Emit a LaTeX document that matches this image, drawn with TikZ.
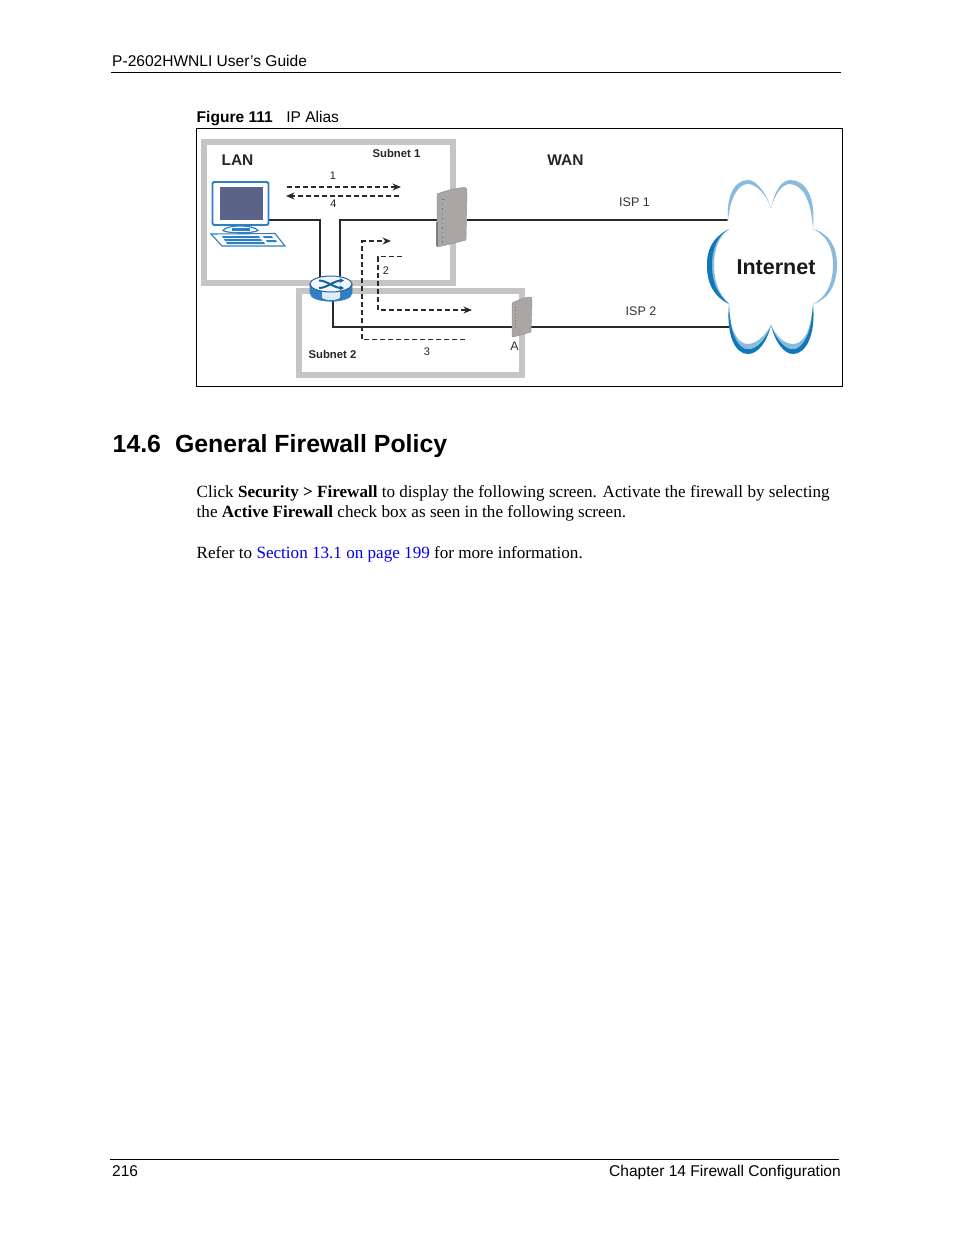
\documentclass[tikz,border=0pt]{standalone}
\usepackage{fontspec}
\setmainfont{Liberation Serif}
\setsansfont{Liberation Sans}
\usetikzlibrary{arrows.meta}
\definecolor{boxgray}{HTML}{C8C4C4}
\definecolor{wire}{HTML}{2A2A2A}
\definecolor{pcblue}{HTML}{2F7FC4}
\definecolor{screen}{HTML}{5B6488}
\definecolor{lightcl}{HTML}{8ABBDD}
\definecolor{darkcl}{HTML}{0F78B8}
\definecolor{devgray}{HTML}{A9A7A5}
\definecolor{linkblue}{HTML}{0000EE}
\tikzset{
  x=1pt,y=-1pt,
  pagetext/.style={inner sep=0pt,anchor=base west,font=\sffamily\fontsize{15.55}{18}\selectfont},
  bodytext/.style={inner sep=0pt,anchor=base west,font=\rmfamily\fontsize{17.1}{20}\selectfont},
  subnetbox/.style={draw=boxgray,line width=6pt,miter limit=10},
  wireline/.style={draw=wire,line width=1.3pt},
  flow/.style={draw=wire,line width=1.25pt,dash pattern=on 5pt off 3pt},
  flowarrow/.style={flow,-{Stealth[length=8.5pt,width=7pt]}},
  difflabel/.style={inner sep=0pt,font=\sffamily\fontsize{11}{13}\selectfont,text=black!85},
  smallbold/.style={inner sep=0pt,font=\sffamily\bfseries\fontsize{11.3}{13}\selectfont,text=black!85},
  bigbold/.style={inner sep=0pt,font=\sffamily\bfseries\fontsize{15.5}{18}\selectfont,text=black!85},
  isplabel/.style={inner sep=0pt,font=\sffamily\fontsize{12.5}{15}\selectfont,text=black!80},
}
\begin{document}
\begin{tikzpicture}
\useasboundingbox[fill=white] (0,0) rectangle (954,1235);
% page furniture
\node[pagetext] (hdr) at (112,66) {P-2602HWNLI User’s Guide};
\coordinate (hruleL) at (111,72.5); \coordinate (hruleR) at (841,72.5);
\draw[line width=0.8pt] (hruleL) -- (hruleR);
\node[pagetext] (cap) at (196.5,122) {\textbf{Figure 111}\hspace{13.5pt}IP Alias};
\draw[line width=0.9pt] (196.5,128.5) rectangle (842.5,386.5);

% subnet boxes
\draw[subnetbox] (204,142) rectangle (452.5,283);
\draw[subnetbox] (299,291) rectangle (522,375);

% anchors for devices
\coordinate (pcport) at (269,220);
\coordinate (routerL) at (320,279);
\coordinate (routerR) at (340,277);
\coordinate (routerB) at (333,300);
\coordinate (dev1L) at (437,220);
\coordinate (dev1R) at (467,220);
\coordinate (dev2L) at (512,327);
\coordinate (dev2R) at (531,327);
\coordinate (cloudA) at (728,220);
\coordinate (cloudB) at (729,327);

% wires
\draw[wireline] (pcport) -| (routerL);
\draw[wireline] (routerR) |- (dev1L);
\draw[wireline] (dev1R) -- (cloudA);
\draw[wireline] (routerB) |- (dev2L);
\draw[wireline] (dev2R) -- (cloudB);

% flows
\coordinate (f1a) at (287,187); \coordinate (f1b) at (401,187);
\coordinate (f4a) at (399,196); \coordinate (f4b) at (286,196);
\draw[flowarrow] (f1a) -- (f1b);
\draw[flowarrow] (f4a) -- (f4b);
\coordinate (f3s) at (465,339.5); \coordinate (f3c) at (362,339.5);
\coordinate (f3t) at (362,241); \coordinate (f3e) at (391,241);
\draw[flowarrow] (f3s) -- (f3c) -- (f3t) -- (f3e);
\coordinate (f2s) at (402,256.5); \coordinate (f2c) at (378,256.5);
\coordinate (f2d) at (378,310); \coordinate (f2e) at (472,310);
\draw[flowarrow] (f2s) -- (f2c) -- (f2d) -- (f2e);

% PC
\node[inner sep=0pt,minimum width=56pt,minimum height=43pt,draw=pcblue,line width=1.8pt,fill=white,rounded corners=1.5pt] (pc) at (240.5,203.5) {};
\fill[screen] (219.5,186.5) rectangle (263,219.5);
\filldraw[fill=white,draw=pcblue,line width=1.2pt] (223,230.5) .. controls (226,224.5) and (254,224.5) .. (258,230.5) .. controls (254,233.5) and (226,233.5) .. (223,230.5) -- cycle;
\fill[pcblue] (232,227.5) rectangle (250,231);
\filldraw[fill=white,draw=pcblue,line width=1.1pt] (211,234) -- (275,233.5) -- (285,246) -- (222,246) -- cycle;
\fill[pcblue] (222,236) -- (259,236) -- (260,238) -- (223,238) -- cycle;
\fill[pcblue] (224,239) -- (261,239) -- (262,241) -- (225,241) -- cycle;
\fill[pcblue] (226,242) -- (264,242) -- (265,244) -- (227,244) -- cycle;
\fill[pcblue] (263,236) -- (272,236) -- (273,238) -- (264,238) -- cycle;
\fill[pcblue] (266,240) -- (276,240) -- (277,242) -- (267,242) -- cycle;

% router
\filldraw[fill=pcblue,draw=pcblue,line width=0.6pt] (310,284) -- (310,293) .. controls (310,304) and (352,304) .. (352,293) -- (352,284) -- cycle;
\fill[white,opacity=0.85] (322,297) .. controls (322,301) and (340,301) .. (340,297) -- (340,291) -- (322,291) -- cycle;
\filldraw[fill=blue!4,draw=pcblue!80!black,line width=1pt] (331,284) ellipse [x radius=21, y radius=8];
\draw[darkcl!85!black,line width=2pt,-{Stealth[length=4.5pt,width=5pt]}] (319,280.5) .. controls (327,280.5) and (334,288) .. (344,288);
\draw[darkcl!85!black,line width=2pt,-{Stealth[length=4.5pt,width=5pt]}] (319,288) .. controls (327,288) and (334,280.5) .. (344,280.5);

% device 1
\filldraw[fill=devgray,draw=devgray!85!black,line width=0.4pt] (437,194) .. controls (445,191) and (455,188) .. (465,187.5) .. controls (467,188) and (467,190) .. (467,192) -- (466,240) .. controls (455,243) and (447,245) .. (437,247) -- cycle;
\fill[devgray!75!black] (436,222) rectangle (438,246);
\foreach \i in {0,...,9}{\fill[black!55] (442-0.05*\i,199+4.7*\i) rectangle (443.5-0.05*\i,200.3+4.7*\i);}
% device 2
\filldraw[fill=devgray,draw=devgray!85!black,line width=0.4pt] (512,303) .. controls (518,300) and (525,297) .. (531,297) .. controls (532,298) and (532,300) .. (532,302) -- (531,332) .. controls (524,334) and (518,336) .. (512,337) -- cycle;
\foreach \i in {0,...,6}{\fill[black!55] (515,307+3.3*\i) rectangle (516.3,308+3.3*\i);}

% cloud
\fill[white] (771,208) .. controls (765,190) and (755,180) .. (748,180) .. controls (735,180) and (726,195) .. (728,229) .. controls (712,238) and (707,250) .. (707,265) .. controls (707,285) and (715,297) .. (729,304) .. controls (726,335) and (735,354) .. (748,354) .. controls (758,354) and (767,342) .. (771,325) .. controls (775,342) and (784,354) .. (793,354) .. controls (806,354) and (816,335) .. (813,304) .. controls (828,300) and (837,285) .. (837,265) .. controls (837,245) and (828,233) .. (813,229) .. controls (816,195) and (805,180) .. (790,180) .. controls (782,180) and (775,190) .. (771,208) -- cycle;
% light crescents
\fill[lightcl] (771,208) .. controls (765,190) and (755,180) .. (748,180) .. controls (735,180) and (726,195) .. (728,221) .. controls (730,198) and (738,184) .. (748,184) .. controls (756,184) and (766,194) .. (771,208) -- cycle;
\fill[lightcl] (771,208) .. controls (775,190) and (782,180) .. (790,180) .. controls (805,180) and (816,195) .. (813,229) .. controls (811,198) and (802,185) .. (790,184) .. controls (782,184) and (775,194) .. (771,208) -- cycle;
\fill[lightcl] (813,229) .. controls (828,233) and (837,245) .. (837,265) .. controls (837,285) and (828,300) .. (813,304) .. controls (826,298) and (833,283) .. (833,265) .. controls (833,247) and (826,235) .. (813,229) -- cycle;
% dark crescents
\fill[lightcl] (729,229) .. controls (712,238) and (707,250) .. (707,265) .. controls (707,285) and (715,297) .. (729,304) .. controls (719,294) and (714,282) .. (714,265) .. controls (714,249) and (719,236) .. (729,229) -- cycle;
\fill[darkcl] (729,229) .. controls (712,238) and (707,250) .. (707,265) .. controls (707,285) and (715,297) .. (729,304) .. controls (717,294) and (712,282) .. (712,265) .. controls (712,249) and (717,236) .. (729,229) -- cycle;
\fill[darkcl] (729,304) .. controls (726,335) and (735,354) .. (748,354) .. controls (758,354) and (767,342) .. (771,325) .. controls (766,338) and (758,349) .. (748,349) .. controls (738,349) and (730,332) .. (729,304) -- cycle;
\fill[lightcl] (729,312) .. controls (731,333) and (739,344) .. (748,344) .. controls (756,344) and (765,336) .. (771,325) .. controls (766,338) and (758,349) .. (748,349) .. controls (738,349) and (731,333) .. (729,312) -- cycle;
\fill[darkcl] (771,325) .. controls (775,342) and (784,354) .. (793,354) .. controls (806,354) and (816,335) .. (813,304) .. controls (811,332) and (803,349) .. (793,349) .. controls (784,349) and (776,338) .. (771,325) -- cycle;
\fill[lightcl] (771,325) .. controls (776,338) and (784,349) .. (793,349) .. controls (803,349) and (811,332) .. (812,314) .. controls (810,333) and (802,344) .. (793,344) .. controls (784,344) and (776,336) .. (771,325) -- cycle;
\node[inner sep=0pt,font=\sffamily\bfseries\fontsize{21.5}{24}\selectfont,text=black!90] (inet) at (776,267) {Internet};

% diagram labels
\node[bigbold] (lan) at (237.5,160) {LAN};
\node[bigbold] (wan) at (565.5,160) {WAN};
\node[smallbold] (sn1) at (396.5,153.5) {Subnet 1};
\node[smallbold] (sn2) at (332.5,354) {Subnet 2};
\node[difflabel] (n1) at (333,176) {1};
\node[difflabel] (n4) at (333.5,204) {4};
\node[difflabel] (n2) at (386,270.5) {2};
\node[difflabel] (n3) at (427,352) {3};
\node[isplabel] (a) at (514.5,346.5) {A};
\node[isplabel] (isp1) at (634.5,202) {ISP 1};
\node[isplabel] (isp2) at (641,311) {ISP 2};

% heading and body
\node[inner sep=0pt,anchor=base west,font=\sffamily\bfseries\fontsize{24.85}{30}\selectfont] (head) at (112.5,452.5) {14.6\hspace{14pt}General Firewall Policy};
\node[bodytext] (l1) at (196.5,497) {Click \textbf{Security > Firewall} to display the following screen. Activate the firewall by selecting};
\node[bodytext] (l2) at (196.5,517) {the \textbf{Active Firewall} check box as seen in the following screen.};
\node[bodytext] (l3) at (196.5,558) {Refer to \textcolor{linkblue}{Section 13.1 on page 199} for more information.};

% footer
\coordinate (fruleL) at (110,1159.5); \coordinate (fruleR) at (839,1159.5);
\draw[line width=0.8pt] (fruleL) -- (fruleR);
\node[pagetext] (pg) at (112,1176) {216};
\node[pagetext,anchor=base east] (chap) at (841,1176) {Chapter 14 Firewall Configuration};
\end{tikzpicture}
\end{document}
